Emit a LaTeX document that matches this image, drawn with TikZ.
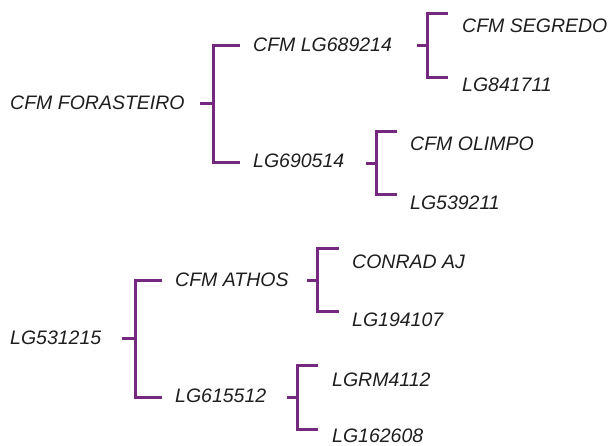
\documentclass[tikz,border=0pt]{standalone}
\usepackage{fontspec}
\setmainfont{Liberation Sans}
\definecolor{brk}{HTML}{74297F}
\definecolor{txt}{HTML}{1E1E1E}
\tikzset{
  lbl/.style={anchor=west,inner sep=0pt,font=\fontsize{19.5}{22}\selectfont\itshape,text=txt},
  br/.style={draw=brk,line width=3pt,line cap=butt,line join=miter}
}
\newcommand{\mybracket}[7]{%
  % #1 name, #2 stub start x, #3 vertical x, #4 arm end x, #5 mid y, #6 top y, #7 bottom y
  \coordinate (#1s) at (#2,#5);
  \coordinate (#1m) at (#3,#5);
  \coordinate (#1t) at (#4,#6);
  \coordinate (#1b) at (#4,#7);
  \draw[br] (#1s) -- (#1m);
  \draw[br] (#1t) -- (#1t -| #1m) -- (#1b -| #1m) -- (#1b);
}
\begin{document}
\begin{tikzpicture}[x=1pt,y=-1pt]
\useasboundingbox (0,0) rectangle (613,445);
\node[lbl] (fora) at (10,103) {CFM FORASTEIRO};
\node[lbl] (lg689) at (253,45) {CFM LG689214};
\node[lbl] (lg690) at (253,161) {LG690514};
\node[lbl] (segr) at (462,26) {CFM SEGREDO};
\node[lbl] (lg841) at (462,85) {LG841711};
\node[lbl] (olim) at (410,144) {CFM OLIMPO};
\node[lbl] (lg539) at (410,203) {LG539211};
\node[lbl] (lg531) at (10,338) {LG531215};
\node[lbl] (atho) at (175,280) {CFM ATHOS};
\node[lbl] (lg615) at (175,396) {LG615512};
\node[lbl] (conr) at (352,262) {CONRAD AJ};
\node[lbl] (lg194) at (352,320) {LG194107};
\node[lbl] (lgrm) at (332,380) {LGRM4112};
\node[lbl] (lg162) at (332,435.5) {LG162608};
\mybracket{ba}{200}{213}{240}{103}{45}{162}
\mybracket{bb}{417}{427}{448}{45}{13}{77}
\mybracket{bc}{366}{376}{397}{163}{131}{194}
\mybracket{bd}{122}{135}{162}{338}{280}{397}
\mybracket{be}{307}{317}{339}{280}{248}{311}
\mybracket{bf}{287}{297}{318}{397}{365}{429}
\end{tikzpicture}
\end{document}
